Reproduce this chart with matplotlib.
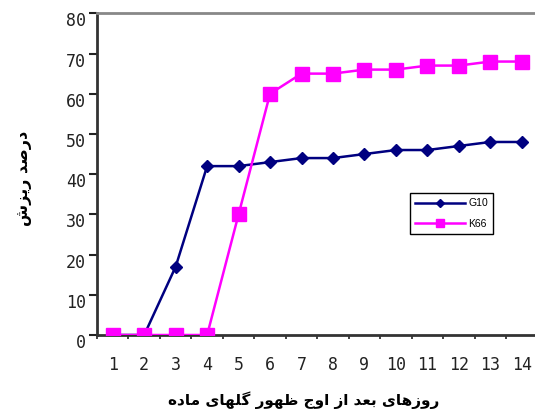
import matplotlib
matplotlib.use("Agg")
import matplotlib.pyplot as plt
from matplotlib.ticker import MultipleLocator, FixedLocator
from matplotlib.transforms import ScaledTranslation

days = list(range(1, 15))
g10 = [0, 0, 17, 42, 42, 43, 44, 44, 45, 46, 46, 47, 48, 48]
k66 = [0, 0, 0, 0, 30, 60, 65, 65, 66, 66, 67, 67, 68, 68]
series_names = ["G10", "K66"]
y_label = "درصد ریزش"
x_label = "روزهای بعد از اوج ظهور گلهای ماده"

# matplotlib has no arabic shaping, so pick presentation forms by hand
# (isolated, final, initial, medial)
FORMS = {
    "ا": ("\ufe8d", "\ufe8e", None, None),
    "د": ("\ufea9", "\ufeaa", None, None),
    "ر": ("\ufead", "\ufeae", None, None),
    "ز": ("\ufeaf", "\ufeb0", None, None),
    "و": ("\ufeed", "\ufeee", None, None),
    "ب": ("\ufe8f", "\ufe90", "\ufe91", "\ufe92"),
    "ج": ("\ufe9d", "\ufe9e", "\ufe9f", "\ufea0"),
    "ش": ("\ufeb5", "\ufeb6", "\ufeb7", "\ufeb8"),
    "ص": ("\ufeb9", "\ufeba", "\ufebb", "\ufebc"),
    "ظ": ("\ufec5", "\ufec6", "\ufec7", "\ufec8"),
    "ع": ("\ufec9", "\ufeca", "\ufecb", "\ufecc"),
    "ل": ("\ufedd", "\ufede", "\ufedf", "\ufee0"),
    "م": ("\ufee1", "\ufee2", "\ufee3", "\ufee4"),
    "ه": ("\ufee9", "\ufeea", "\ufeeb", "\ufeec"),
    "ی": ("\ufbfc", "\ufbfd", "\ufbfe", "\ufbff"),
    "گ": ("\ufb92", "\ufb93", "\ufb94", "\ufb95"),
}


def dual(ch):
    return ch in FORMS and FORMS[ch][2] is not None


def shape(text):
    out = []
    for i, ch in enumerate(text):
        if ch not in FORMS:
            out.append(ch)
            continue
        prev = text[i - 1] if i > 0 else " "
        nxt = text[i + 1] if i + 1 < len(text) else " "
        jp = dual(prev)
        jn = dual(ch) and nxt in FORMS
        f = FORMS[ch]
        if jp and jn:
            out.append(f[3])
        elif jp:
            out.append(f[1])
        elif jn:
            out.append(f[2])
        else:
            out.append(f[0])
    # visual order is right to left
    return "".join(out)[::-1]


fig = plt.figure(figsize=(5.35, 4.11), dpi=100)
ax = fig.add_axes([97 / 535, 76 / 411, 1 - 97 / 535, 321.7 / 411])

ax.plot(days, g10, color="#000080", lw=1.8, marker="D", ms=6.5, label=series_names[0], zorder=3)
ax.plot(days, k66, color="#FF00FF", lw=1.8, marker="s", ms=10.5, label=series_names[1], zorder=4)

ax.set_xlim(0.5, 14.42)
ax.set_ylim(0, 80)
ax.yaxis.set_major_locator(MultipleLocator(10))
ax.xaxis.set_major_locator(FixedLocator(days))
ax.xaxis.set_minor_locator(FixedLocator([d + 0.5 for d in range(0, 15)]))

mono = "DejaVu Sans Mono"
ax.tick_params(axis="x", which="major", length=0, pad=15, labelsize=12)
ax.tick_params(axis="x", which="minor", length=3, width=1.2, direction="out", color="#222222")
ax.tick_params(axis="y", length=6, width=1.5, direction="out", pad=2, labelsize=12, color="#222222")
for lab in ax.get_xticklabels() + ax.get_yticklabels():
    lab.set_fontfamily(mono)
    lab.set_color("#222222")
for lab in ax.get_yticklabels():
    lab.set_verticalalignment("top")
    lab.set_transform(lab.get_transform() + ScaledTranslation(0, 0.01, fig.dpi_scale_trans))

ax.spines["right"].set_visible(False)
ax.spines["top"].set_color("#888888")
ax.spines["top"].set_linewidth(2)
ax.spines["left"].set_color("#333333")
ax.spines["left"].set_linewidth(2)
ax.spines["bottom"].set_color("#333333")
ax.spines["bottom"].set_linewidth(2)

fig.text(25 / 535, 1 - 178 / 411, shape(y_label), rotation=90, ha="center", va="center",
         fontsize=11.5, fontweight="bold", family="DejaVu Sans")
fig.text(304 / 535, 1 - 400 / 411, shape(x_label), ha="center", va="center",
         fontsize=11, fontweight="bold", family="DejaVu Sans")

leg = ax.legend(loc="upper left", bbox_to_anchor=(0.715, 0.441), borderaxespad=0,
                fancybox=False, edgecolor="black", framealpha=1, handlelength=4.8,
                markerscale=0.6, prop={"family": "Liberation Sans", "size": 7.5},
                labelspacing=1.0, handletextpad=0.3, borderpad=0.5)
leg.get_frame().set_linewidth(1.0)

fig.savefig("out.png", dpi=100)
